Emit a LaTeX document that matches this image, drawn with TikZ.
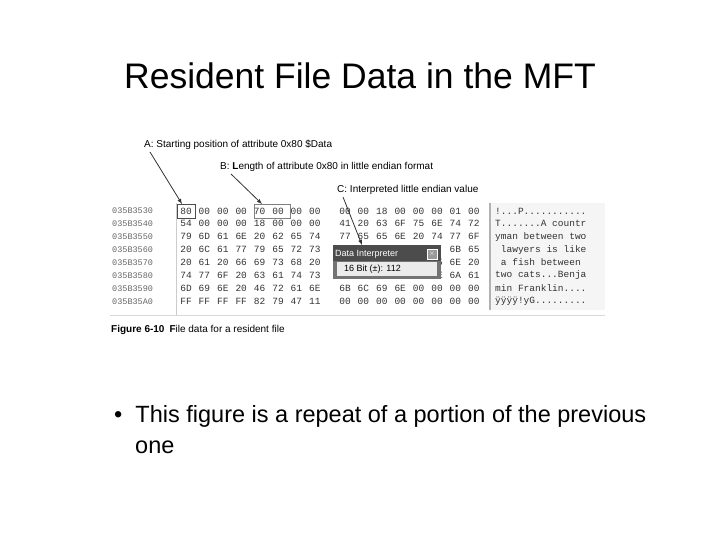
\documentclass[tikz,border=0pt]{standalone}
\usepackage{fontspec}
\setmainfont{Liberation Sans}
\setmonofont{Liberation Mono}
\begin{document}
\begin{tikzpicture}[x=1pt,y=-1pt,
  hex/.style={font=\ttfamily\fontsize{9.5}{10}\selectfont,text=black!80,inner sep=0pt},
  lab/.style={font=\fontsize{10}{11}\selectfont,anchor=west,inner sep=0pt},
  arr/.style={-latex,thick,black!80}]
\useasboundingbox (0,0) rectangle (720,540);
\fill[white] (0,0) rectangle (720,540);
\node[font=\fontsize{35.5}{38}\selectfont] (title) at (360,76) {Resident File Data in the MFT};
% frame lines
\fill[black!4] (490,203) rectangle (605,310);
\draw[black!20] (176,203) -- (176,315);
\draw[black!15] (110,315) -- (605,315);
\draw[black!30,line width=1.5pt] (490,203) -- (490,310);
% addresses
\foreach \a [count=\i] in {035B3530,035B3540,035B3550,035B3560,035B3570,035B3580,035B3590,035B35A0}
  \node[hex,anchor=west,text=black!60,font=\ttfamily\fontsize{8.5}{9}\selectfont] (ad\i) at (112,{198+12.9*\i}) {\a};
\foreach \r [count=\i] in {
 {80,00,00,00,70,00,00,00,00,00,18,00,00,00,01,00},
 {54,00,00,00,18,00,00,00,41,20,63,6F,75,6E,74,72},
 {79,6D,61,6E,20,62,65,74,77,65,65,6E,20,74,77,6F},
 {20,6C,61,77,79,65,72,73,20,69,73,20,6C,69,6B,65},
 {20,61,20,66,69,73,68,20,62,65,74,77,65,65,6E,20},
 {74,77,6F,20,63,61,74,73,00,00,00,42,65,6E,6A,61},
 {6D,69,6E,20,46,72,61,6E,6B,6C,69,6E,00,00,00,00},
 {FF,FF,FF,FF,82,79,47,11,00,00,00,00,00,00,00,00}}
 \foreach \h [count=\j] in \r {
   \pgfmathtruncatemacro{\hide}{((\i>3)&&(\i<7)&&(\j>8)&&(\j<14)) || ((\i==4)&&(\j==14))}
   \ifnum\hide=0
   \pgfmathsetmacro{\xx}{\j<9 ? 186+18.4*(\j-1) : 345+18.4*(\j-9)}
   \node[hex] (h\i-\j) at (\xx,{198+12.9*\i}) {\h};
   \fi
 }
\node[hex,anchor=west] (tx1) at (495,210.9) {!...P...........};
\node[hex,anchor=west] (tx2) at (495,223.8) {T.......A countr};
\node[hex,anchor=west] (tx3) at (495,236.7) {yman between two};
\node[hex,anchor=west] (tx4) at (495,249.6) {\ lawyers is like};
\node[hex,anchor=west] (tx5) at (495,262.5) {\ a fish between};
\node[hex,anchor=west] (tx6) at (495,275.4) {two cats...Benja};
\node[hex,anchor=west] (tx7) at (495,288.3) {min Franklin....};
\node[hex,anchor=west] (tx8) at (495,301.2) {ÿÿÿÿ!yG.........};
% highlight boxes
\draw[black!70] (177,204) rectangle (195,218);
\draw[black!50] (254,204) rectangle (290,218);
% data interpreter
\fill[black!55] (333,245) rectangle (441,279);
\fill[black!70] (333,245) rectangle (441,261);
\node[anchor=west,text=white,font=\fontsize{9}{9}\selectfont,inner sep=0pt] (di) at (335,254) {Data Interpreter};
\draw[white,fill=black!40] (427,249) rectangle (437,259);
\node[text=white,font=\fontsize{7}{7}\selectfont,inner sep=0pt] (cl) at (432,254) {$\times$};
\fill[black!8] (337,262) rectangle (437,276);
\node[anchor=west,font=\fontsize{9}{9}\selectfont,inner sep=0pt] (bit) at (344,269.5) {16 Bit (±): 112};
% labels & arrows
\node[lab] (A) at (144,145) {A: Starting position of attribute 0x80 \$Data};
\node[lab] (B) at (220,167) {B: \textbf{L}ength of attribute 0x80 in little endian format};
\node[lab] (C) at (337,190) {C: Interpreted little endian value};
\draw[arr] (150,152) -- (182,204);
\draw[arr] (231,174) -- (262,204);
\draw[arr] (343,197) -- (362,245);
\node[lab,font=\fontsize{10}{11}\selectfont] (cap) at (111,330) {\textbf{Figure 6-10}\enspace \textbf{F}ile data for a resident file};
% bullet
\node[anchor=west,font=\fontsize{23.5}{28}\selectfont,inner sep=0pt] (b1) at (114,416) {•\ \ This figure is a repeat of a portion of the previous};
\node[anchor=west,font=\fontsize{23.5}{28}\selectfont,inner sep=0pt] (b2) at (135,447) {one};
\end{tikzpicture}
\end{document}
